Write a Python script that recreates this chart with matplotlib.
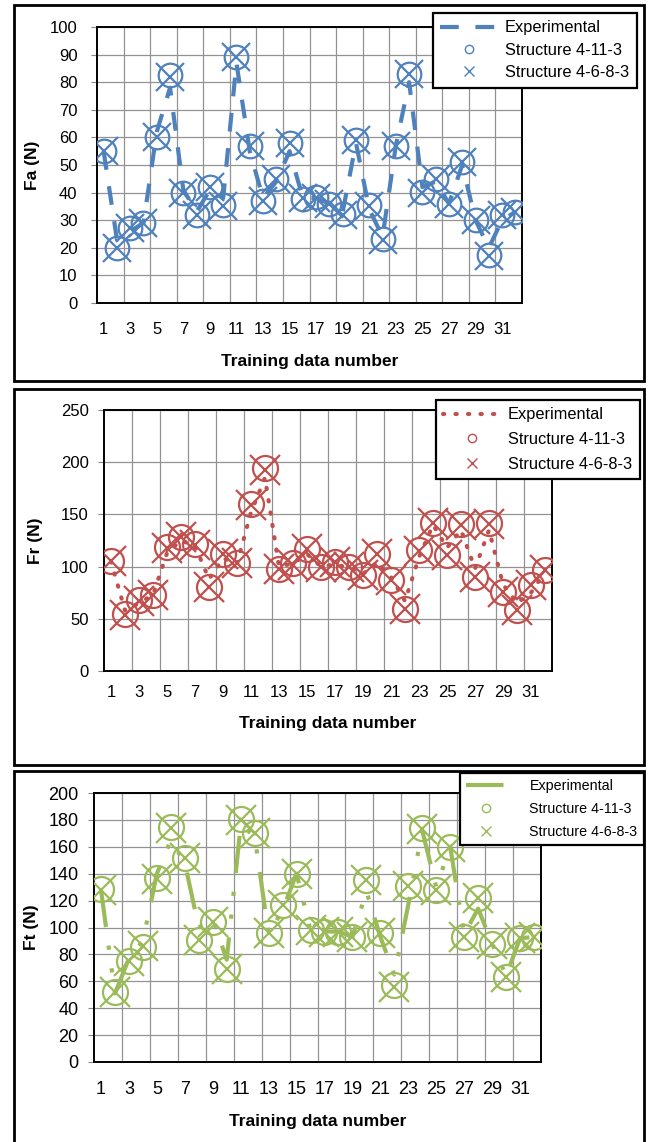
import numpy as np
import matplotlib.pyplot as plt
from matplotlib.lines import Line2D
from matplotlib.patches import Rectangle

plt.rcParams['font.family'] = ['Liberation Sans', 'DejaVu Sans']

# training data number 1..32
train_no = list(range(1, 33))

# Fa (N)
fa_exp = [55, 23, 26, 29, 62, 78, 41, 33, 41, 38, 87, 55, 38, 44, 55, 38,
          38, 36, 33, 58, 34, 24, 57, 80, 42, 44, 36, 50, 30, 20, 30, 33]
fa_4113 = [55, 20, 27, 29, 60, 82.5, 40, 32, 42, 35.4, 89, 57, 36.8, 45, 58, 37.8,
           38.4, 36, 32.4, 59, 35.4, 23.3, 56.8, 82.9, 40.2, 45, 36, 51, 30.2, 17.3, 31.8, 33]
fa_4683 = [55, 20, 27, 29, 60, 82, 40, 32, 42, 35, 89, 57, 37, 45, 58, 38,
           38, 36, 32, 59, 35, 23, 57, 83, 40, 45, 36, 51, 30, 17, 32, 33]

# Fr (N)
fr_exp = [105, 58, 65, 73, 113, 125, 120, 88, 108, 103, 152, 185, 100, 103, 112, 100,
          102, 99, 93, 104, 90, 67, 109, 140, 118, 135, 98, 135, 83, 65, 75, 95]
fr_4113 = [105.5, 55, 67.8, 73, 119, 128.5, 121.5, 80.6, 112.5, 103, 160, 194, 98, 103, 116.7, 99.7,
           104.5, 99.7, 91.8, 112.5, 87, 59, 115.7, 142, 111, 140.7, 90, 142, 75.8, 58, 82, 97]
fr_4683 = [105, 54, 67, 73, 118, 128, 121, 80, 112, 103, 159, 193, 98, 102, 117, 100,
           104, 100, 92, 112, 87, 59, 115, 142, 111, 140, 90, 141, 76, 58, 82, 97]

# Ft (N)
ft_exp = [128, 51, 77, 90, 140, 165, 148, 100, 107, 76, 176, 168, 95, 113, 140, 98,
          97, 97, 93, 127, 93, 65, 117, 172, 130, 160, 95, 114, 88, 64, 92, 93]
ft_4113 = [128.7, 52, 75, 85.7, 136.6, 174.4, 152, 91, 104, 68.8, 181, 170, 95.6, 117, 140, 98,
           97, 97, 93, 135, 95.6, 57, 131, 174, 128, 160, 93, 122, 88, 63, 92, 93]
ft_4683 = [128, 52, 75, 86, 136, 174, 152, 91, 104, 69, 180, 170, 96, 117, 140, 98,
           97, 97, 93, 135, 96, 56, 131, 173, 128, 160, 93, 122, 88, 63, 92, 93]

labels = ['Experimental', 'Structure 4-11-3', 'Structure 4-6-8-3']

W, H = 651, 1142
fig = plt.figure(figsize=(W / 100, H / 100), dpi=100)


def px_box(l, t, r, b):
    return [l / W, 1 - b / H, (r - l) / W, (b - t) / H]


def frame(l, t, r, b):
    fig.add_artist(Rectangle((l / W, 1 - b / H), (r - l) / W, (b - t) / H,
                             transform=fig.transFigure, fill=False,
                             ec='black', lw=2, zorder=0))


def panel(rect, exp, s1, s2, color, ls, lw_exp, cap, ylim, ystep, ylabel,
          tick_fs, ypad, lab_pos, leg_pos, leg_fs, leg_hl, leg_tp, leg_sp, xpad, ms):
    ax = fig.add_axes(px_box(*rect))
    ax.plot(train_no, exp, color=color, lw=lw_exp, linestyle=ls,
            dash_capstyle=cap, zorder=3)
    ax.plot(train_no, s1, ls='none', marker='o', ms=ms, mfc='none', mec=color, mew=1.6, zorder=4)
    ax.plot(train_no, s2, ls='none', marker='x', ms=ms + 3, mec=color, mew=1.6, zorder=4)

    ax.set_xlim(0.5, 32.5)
    ax.set_ylim(*ylim)
    ax.set_yticks(np.arange(ylim[0], ylim[1] + 1, ystep))
    ax.set_xticks(range(1, 32, 2))
    ax.set_xticks(np.arange(2.5, 32, 2), minor=True)
    ax.grid(which='minor', axis='x', color='#939393', lw=0.9)
    ax.grid(which='major', axis='y', color='#939393', lw=0.9)
    ax.set_axisbelow(True)
    ax.tick_params(axis='x', which='both', length=0, labelsize=tick_fs, pad=xpad)
    ax.tick_params(axis='y', length=4, width=0.8, color='#888888', labelsize=tick_fs, pad=ypad)
    for sp in ax.spines.values():
        sp.set_color('black')
        sp.set_linewidth(1.4)

    ax.set_ylabel(ylabel, fontsize=12.5, fontweight='bold')
    ax.set_xlabel('Training data number', fontsize=12.5, fontweight='bold')
    ax.yaxis.set_label_coords(*lab_pos[0])
    ax.xaxis.set_label_coords(*lab_pos[1])

    handles = [Line2D([], [], color=color, lw=lw_exp, linestyle=ls, dash_capstyle=cap),
               Line2D([], [], ls='none', marker='o', ms=6, mfc='none', mec=color, mew=1),
               Line2D([], [], ls='none', marker='x', ms=7, mec=color, mew=1)]
    leg = ax.legend(handles, labels, loc='upper left',
                    bbox_to_anchor=(leg_pos[0] / W, 1 - leg_pos[1] / H),
                    bbox_transform=fig.transFigure, borderaxespad=0,
                    fontsize=leg_fs, handlelength=leg_hl, handletextpad=leg_tp,
                    labelspacing=leg_sp, borderpad=0.45, fancybox=False,
                    framealpha=1, edgecolor='black')
    leg.get_frame().set_linewidth(1.6)
    leg.set_zorder(10)
    return ax


# outer boxes round each chart
frame(14, 5, 644, 381)
frame(14, 389, 644, 765)
frame(14, 771, 644, 1150)

# Fa
panel((97, 27, 522, 303), fa_exp, fa_4113, fa_4683, '#4F81BD', (0, (4.5, 4)), 3, 'butt',
      (0, 100), 10, 'Fa (N)', 12, 10,
      ((-0.134, 0.5), (0.5, -0.183)), (433, 13), 11.8, 3.5, 0.45, 0.45, 14, 17)

# Fr
panel((104, 410, 552, 671), fr_exp, fr_4113, fr_4683, '#C0504D', (0, (0.3, 2.7)), 3, 'round',
      (0, 250), 50, 'Fr (N)', 12, 7,
      ((-0.136, 0.5), (0.5, -0.172)), (436, 400), 11.8, 3.5, 0.45, 0.6, 10, 18)

# Ft
panel((94, 793, 541, 1062), ft_exp, ft_4113, ft_4683, '#9BBB59', (0, (9, 4.5, 1, 4.5, 1, 4.5)), 3, 'butt',
      (0, 200), 20, 'Ft (N)', 13, 7,
      ((-0.123, 0.5), (0.5, -0.192)), (460, 773), 10.3, 2.8, 1.6, 0.6, 14, 18)

plt.savefig('out.png', dpi=100)
